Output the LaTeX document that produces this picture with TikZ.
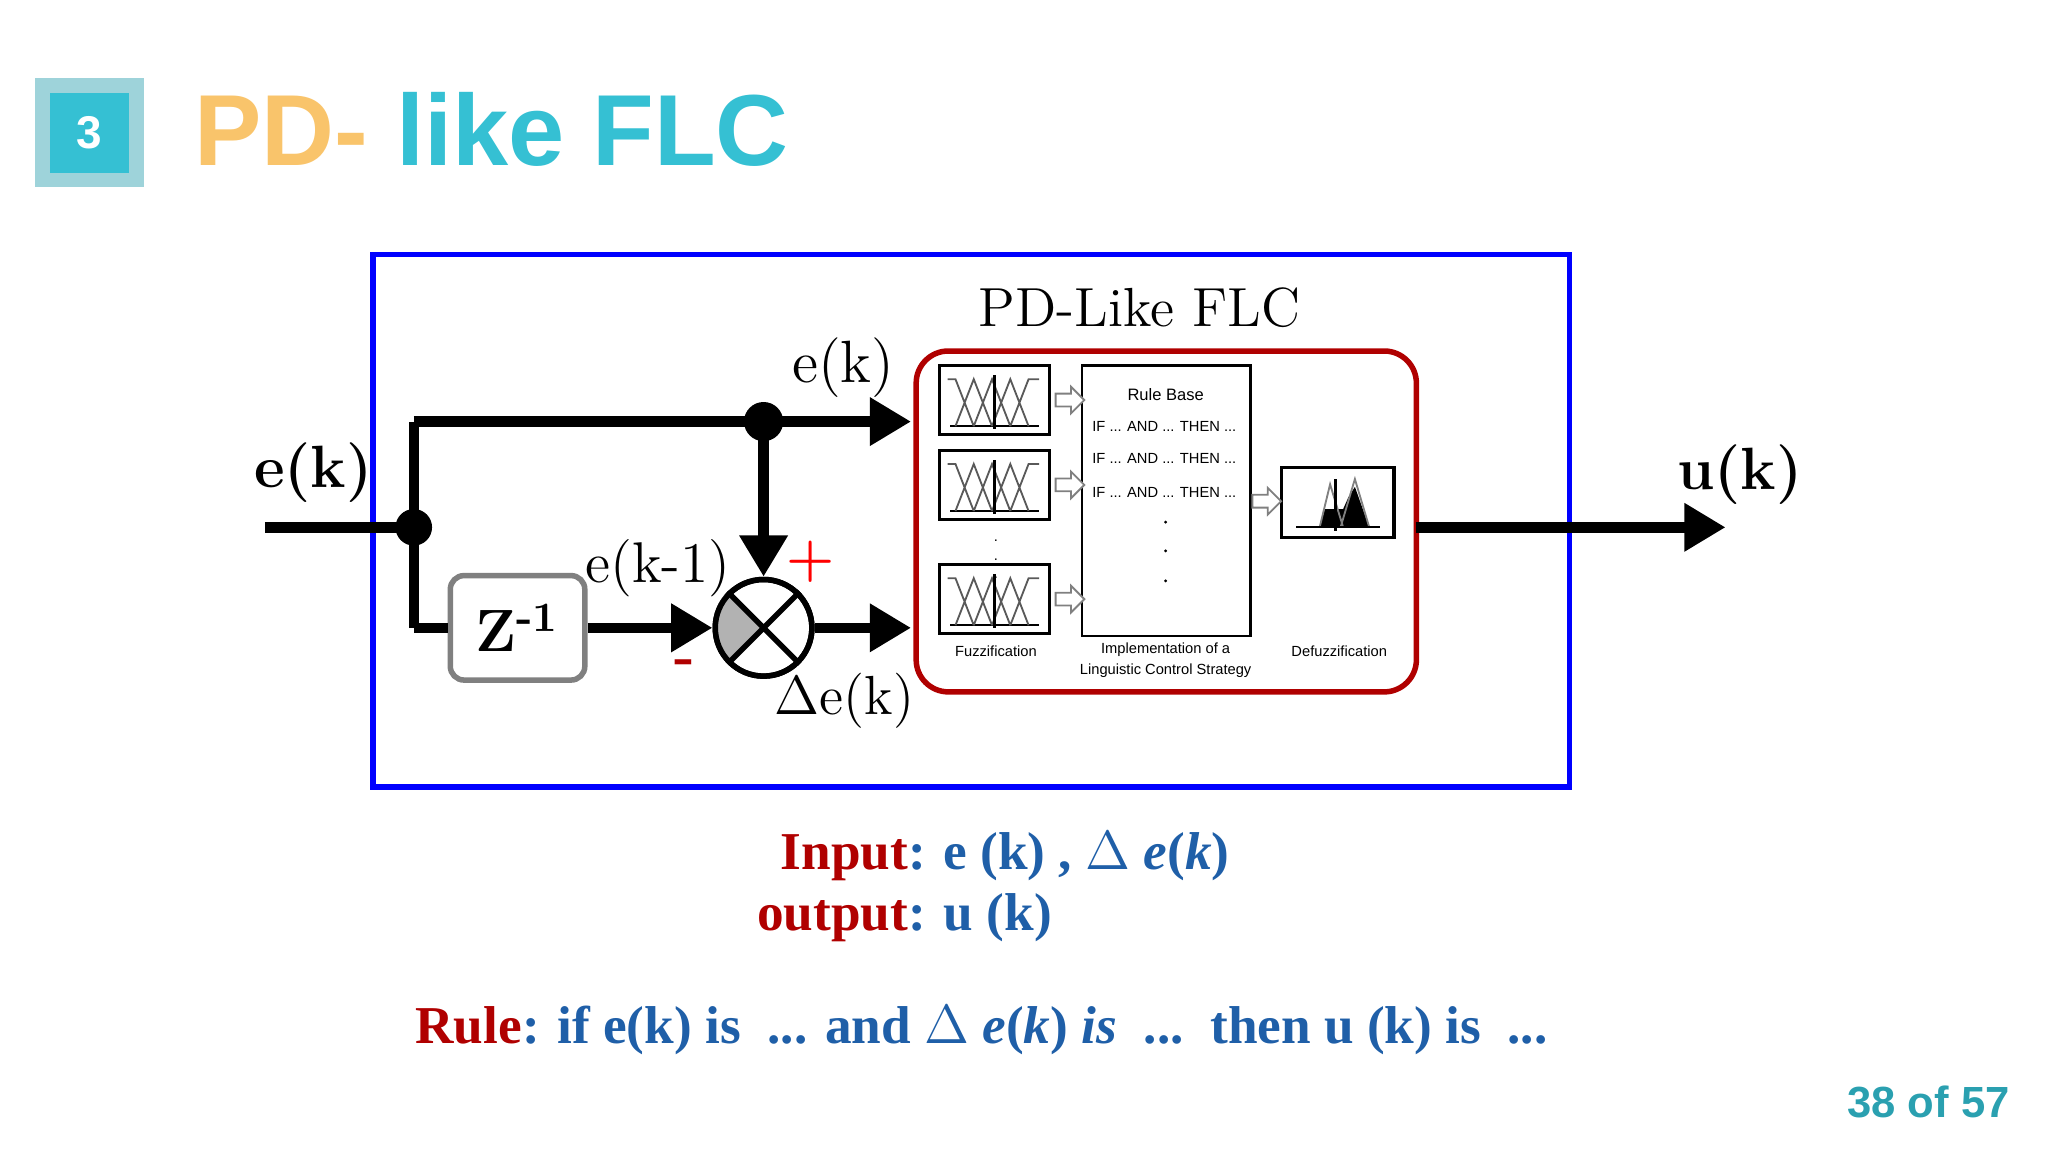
\documentclass[tikz,border=0pt]{standalone}
\usepackage{fontspec}
\newfontfamily\sans{Liberation Sans}
\newfontfamily\ser{Liberation Serif}
\usetikzlibrary{arrows.meta,shapes.geometric,shapes.arrows,calc}
\definecolor{teal1}{HTML}{35C0D3}
\definecolor{teal2}{HTML}{9ED3DA}
\definecolor{orng}{HTML}{F9C46B}
\definecolor{dred}{HTML}{B00000}
\definecolor{tblue}{HTML}{1F5FA8}
\definecolor{pnum}{HTML}{2AA0B0}
\begin{document}
\begin{tikzpicture}[x=0.01cm,y=-0.01cm,
  sig/.style={line width=2.3pt},
  arr/.style={sig,-{Triangle[length=9pt,width=10pt]}},
  tiny/.style={font=\sans\fontsize{3.2}{3.6}\selectfont,inner sep=0},
  btxt/.style={font=\ser\bfseries\fontsize{11.6}{14}\selectfont,inner sep=0},
  hol/.style={draw=gray,fill=white,line width=0.4pt,single arrow,single arrow head extend=1.5pt,minimum height=0.22cm,inner sep=1.2pt}]
\useasboundingbox (0,0) rectangle (1569,883);
% title
\node[fill=teal2,minimum size=0.83cm,inner sep=0] (sq) at (68.5,101.5) {};
\node[fill=teal1,minimum size=0.61cm,inner sep=0,text=white,font=\sans\bfseries\fontsize{10}{12}\selectfont] (sqi) at (68.5,102) {3};
\node[anchor=base west,inner sep=0,font=\sans\bfseries\fontsize{22}{26}\selectfont] (title) at (148,127) {\textcolor{orng}{PD-} \textcolor{teal1}{like FLC}};
% blue frame
\node[draw=blue,line width=1.2pt,minimum width=9.16cm,minimum height=4.08cm,inner sep=0] (frame) at (744,399) {};
\node[font=\fontsize{12}{14}\selectfont] (pdl) at (873,236) {PD-Like FLC};
% red FLC box
\node[draw=dred,line width=1.2pt,rounded corners=7pt,minimum width=3.83cm,minimum height=2.61cm,inner sep=0] (flc) at (893.5,399.5) {};
% signal paths
\coordinate (in) at (203,404);
\coordinate (j1) at (317,404);
\coordinate (jt) at (317,323);
\coordinate (jb) at (317,481);
\coordinate (j2) at (585,323);
\coordinate (topend) at (698,323);
\coordinate (botend) at (698,481);
\coordinate (outst) at (1085,404);
\coordinate (outend) at (1322,404);
\node[draw=gray,line width=1.2pt,rounded corners=3pt,minimum width=1.03cm,minimum height=0.8cm,fill=white,font=\bfseries\fontsize{13}{14}\selectfont] (z) at (396.5,481) {Z\textsuperscript{-1}};
\node[circle,draw,line width=1.2pt,minimum size=0.74cm,inner sep=0] (sum) at (585,481) {};
\fill[gray!60] (sum.center) -- (sum.135) arc (135:225:0.37cm) -- cycle;
\draw[line width=1.2pt] (sum.45)--(sum.225) (sum.135)--(sum.315);
\draw[line width=1.2pt] (sum) circle (0.37cm);
\draw[sig] (in) -- (j1);
\draw[sig] (jb) -- (jt);
\draw[arr] (jt) -- (topend);
\draw[sig] (jb) -- (z.west);
\draw[arr] (z.east) -- (sum.west);
\draw[arr] (j2) -- (sum.north);
\draw[arr] (sum.east) -- (botend);
\draw[arr] (outst) -- (outend);
\fill (j1) circle (0.14cm);
\fill (j2) circle (0.15cm);
% labels
\node[font=\bfseries\fontsize{13}{14}\selectfont] (l1) at (240,362) {e(k)};
\node[font=\fontsize{13}{14}\selectfont] (l2) at (646,282) {e(k)};
\node[font=\fontsize{12.5}{14}\selectfont] (l3) at (504,435) {e(k-1)};
\node[text=red,font=\bfseries\fontsize{12}{14}\selectfont] (plus) at (621,430) {+};
\node[text=dred,font=\bfseries\fontsize{12}{14}\selectfont] (minus) at (525,511) {-};
\node[font=\fontsize{12}{14}\selectfont] (l4) at (647,537) {$\Delta$e(k)};
\node[font=\bfseries\fontsize{13}{14}\selectfont] (l5) at (1333,364) {u(k)};
% fuzzification boxes
\foreach \n/\y in {f1/306.5,f2/371.5,f3/459}{
  \node[draw,line width=0.7pt,minimum width=0.84cm,minimum height=0.53cm,inner sep=0] (\n) at (762,\y) {};
  \begin{scope}[shift={(762,\y)}]
    \draw[line width=0.5pt] (-34,20) -- (34,20);
    \draw[gray!70!black,line width=0.4pt] (-36,-16)--(-30,-16)--(-16,20) (-30,20)--(-16,-16)--(-2,20) (-16,20)--(-2,-16)--(12,20) (-2,20)--(12,-16)--(26,20) (12,20)--(26,-16)--(34,-16);
    \draw[line width=0.8pt] (0,-19) -- (0,22);
  \end{scope}
}
\node[tiny] (dots1) at (763,418) {$\vdots$};
% rule base
\node[draw,line width=0.5pt,minimum width=1.29cm,minimum height=2.07cm,inner sep=0] (rb) at (893.5,383.5) {};
\node[tiny,font=\sans\fontsize{3.6}{4}\selectfont] (rbt) at (893,302) {Rule Base};
\node[tiny] (r1) at (892,327) {IF ... AND ... THEN ...};
\node[tiny] (r2) at (892,351) {IF ... AND ... THEN ...};
\node[tiny] (r3) at (892,377) {IF ... AND ... THEN ...};
\foreach \yy in {400,422,445}{\fill (893,\yy) circle (0.012cm);}
% defuzz
\node[draw,line width=0.7pt,minimum width=0.86cm,minimum height=0.54cm,inner sep=0] (df) at (1025,385) {};
\begin{scope}[shift={(1025,385)}]
  \fill (-14,19)--(-10,5)--(4,5)--(8,-4)--(13,-12)--(24,19)--cycle;
  \draw[line width=0.4pt,gray] (-14,19)--(-6,-14)--(4,19) (2,19)--(13,-18)--(24,19);
  \draw[line width=0.5pt] (-32,19)--(32,19);
  \draw[line width=0.6pt] (-2,-18)--(-2,22);
\end{scope}
% hollow arrows
\foreach \a in {f1,f2,f3}{\node[hol] at ($(\a.east)+(12,0)$) {};}
\node[hol] (ha) at (968,384) {};
% captions
\node[tiny] (c1) at (763,499) {Fuzzification};
\node[tiny,align=center] (c2) at (893,506) {Implementation of a\\[1pt]Linguistic Control Strategy};
\node[tiny] (c3) at (1026,499) {Defuzzification};
% bottom text
\node[btxt] (inp) at (770,656) {\textcolor{dred}{Input}\textcolor{tblue}{: e (k) , $\Delta$ \textit{e}(\textit{k})}};
\node[btxt] (outp) at (693,703) {\textcolor{dred}{output}\textcolor{tblue}{: u (k)}};
\node[btxt] (rule) at (752,789) {\textcolor{dred}{Rule}\textcolor{tblue}{: if e(k) is\ \ ... and $\Delta$ \textit{e}(\textit{k}) \textit{is}\ \ ...\ \ then u (k) is\ \ ...}};
\node[anchor=east,text=pnum,font=\sans\bfseries\fontsize{9.5}{12}\selectfont] (pg) at (1552,844) {38 of 57};
\end{tikzpicture}
\end{document}
